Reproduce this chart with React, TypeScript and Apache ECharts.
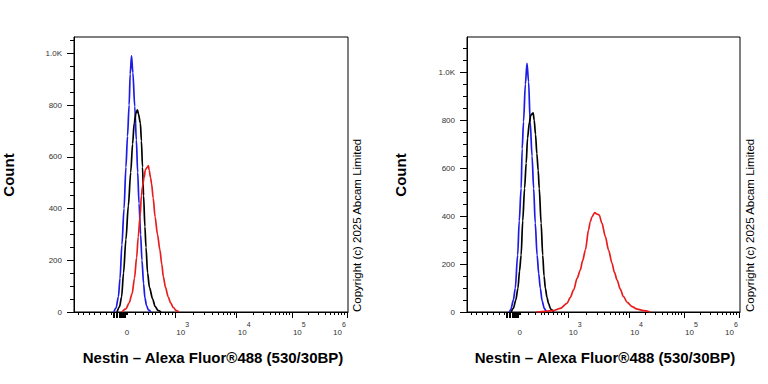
import React, { useEffect, useRef } from 'react';
import * as echarts from 'echarts';

// ---------- Data (x = display channel on a 0..1024 biexponential scale, y = count) ----------
const leftBlue: [number, number][] = [
  [149, 0], [157, 15], [166, 59], [172, 130], [179, 260], [187, 400], [194, 560], [200, 680],
  [206, 800], [210, 920], [215, 990], [220, 925], [227, 795], [233, 665], [238, 540], [243, 420],
  [249, 300], [254, 200], [260, 110], [265, 55], [271, 25], [278, 8], [288, 0],
];
const leftBlack: [number, number][] = [
  [161, 0], [170, 20], [178, 59], [185, 150], [194, 280], [203, 410], [212, 540], [219, 650],
  [225, 730], [232, 770], [237, 781], [241, 765], [248, 730], [252, 661], [256, 560], [260, 450],
  [265, 330], [269, 250], [275, 151], [282, 95], [294, 50], [303, 22], [314, 6], [325, 0],
];
const leftRed: [number, number][] = [
  [179, 0], [194, 12], [206, 35], [217, 70], [226, 130], [234, 210], [240, 290], [247, 370],
  [252, 450], [256, 485], [262, 520], [267, 550], [273, 558], [278, 566], [281, 548], [286, 520],
  [290, 495], [296, 440], [303, 368], [312, 300], [321, 240], [328, 185], [334, 136], [342, 95],
  [352, 59], [361, 35], [371, 18], [381, 6], [392, 0],
];
const rightBlue: [number, number][] = [
  [159, 0], [164, 10], [174, 50], [181, 99], [190, 237], [196, 380], [203, 515], [207, 680],
  [212, 793], [219, 950], [225, 1036], [231, 960], [237, 793], [244, 650], [250, 515], [256, 370],
  [263, 237], [269, 160], [275, 99], [282, 45], [290, 15], [297, 0],
];
const rightBlack: [number, number][] = [
  [166, 0], [174, 15], [183, 50], [191, 99], [197, 170], [203, 237], [209, 380], [216, 515],
  [222, 620], [227, 724], [234, 790], [239, 820], [248, 830], [252, 800], [257, 740], [262, 660],
  [267, 590], [271, 515], [278, 370], [284, 237], [289, 150], [294, 99], [300, 60], [306, 35],
  [314, 12], [325, 0],
];
const rightRed: [number, number][] = [
  [260, 0], [294, 3], [324, 6], [350, 15], [375, 36], [387, 60], [400, 92], [413, 140],
  [425, 175], [434, 215], [444, 258], [456, 342], [462, 375], [469, 397], [479, 414], [488, 408],
  [496, 404], [506, 370], [519, 314], [531, 258], [544, 203], [553, 165], [563, 133], [575, 95],
  [587, 64], [601, 40], [619, 22], [639, 12], [662, 6], [688, 0],
];

// Axis values
const yMaxLeft = 1063;
const yMaxRight = 1146;
const yLabelValues = [0, 200, 400, 600, 800, 1000];
const yMinorLeft = [50, 100, 150, 250, 300, 350, 450, 500, 550, 650, 700, 750, 850, 900, 950, 1050];
const yMinorRight = [50, 100, 150, 250, 300, 350, 450, 500, 550, 650, 700, 750, 850, 900, 950, 1050, 1100];

const xLabelValues = [0, 1e3, 1e4, 1e5, 1e6];
const xLabelExponents = [0, 3, 4, 5, 6];
const xMajorTickValues = [
  -90, -80, -70, -60, -50, -45, -40, -35, -30, -25, -20, -15, -10,
  1e3, 1e4, 1e5, 1e6,
];
const xMinorTickValues = [
  -700, -600, -500, -400, -300, -200, -100, -5, 0,
  100, 200, 300, 400, 500, 600, 700, 800, 900,
  2000, 3000, 4000, 5000, 6000, 7000, 8000, 9000,
  20000, 30000, 40000, 50000, 60000, 70000, 80000, 90000,
  200000, 300000, 400000, 500000, 600000, 700000, 800000, 900000,
];

// Biexponential display scale definition (intensity -> channel)
const scaleIntensity = [-770, -100, 0, 100, 500, 1000, 1e4, 1e5, 1e6];
const scaleChannel = [0, 140, 198, 228, 303, 378, 608, 814, 1020];

const xTitle = 'Nestin – Alexa Fluor®488 (530/30BP)';
const yTitle = 'Count';
const copyright = 'Copyright (c) 2025 Abcam Limited';

const FONT = '"Liberation Sans", Arial, Helvetica, sans-serif';

function hSpace(v: number): number {
  return v < 0 ? v / 100 : Math.asinh(v / 100);
}
function toChannel(v: number): number {
  const x = hSpace(v);
  const n = scaleIntensity.length;
  for (let i = 0; i < n - 1; i++) {
    const a = hSpace(scaleIntensity[i]);
    const b = hSpace(scaleIntensity[i + 1]);
    if (x <= b || i === n - 2) {
      return scaleChannel[i] + ((x - a) / (b - a)) * (scaleChannel[i + 1] - scaleChannel[i]);
    }
  }
  return 0;
}

const xLabelCh = xLabelValues.map(toChannel);
const xMajorCh = xMajorTickValues.map(toChannel);
const xMinorCh = xMinorTickValues.map(toChannel);

function xLabelFormatter(val: number): string {
  let idx = 0;
  let best = Infinity;
  xLabelCh.forEach((c, i) => {
    const d = Math.abs(c - val);
    if (d < best) {
      best = d;
      idx = i;
    }
  });
  if (idx === 0) return '{b|0}';
  const e = xLabelExponents[idx];
  if (idx === xLabelCh.length - 1) return `{b|10}{s|${e}}{g| }`;
  return `{g| }{b|10}{s|${e}}`;
}

const labelColor = '#333';

function makeAxes(gridIndex: number, yMax: number, yMinor: number[]) {
  const xAxes = [
    {
      type: 'value',
      gridIndex,
      position: 'bottom',
      min: 0,
      max: 1024,
      axisLine: { show: true, lineStyle: { color: '#000', width: 1 } },
      axisTick: { show: true, length: 3, customValues: xMinorCh, lineStyle: { color: '#000', width: 1 } },
      axisLabel: {
        show: true,
        customValues: xLabelCh,
        formatter: xLabelFormatter,
        margin: 8,
        color: labelColor,
        fontFamily: FONT,
        rich: {
          b: { fontSize: 8, fontFamily: FONT, color: labelColor, padding: [8, 0, 0, 0] },
          s: { fontSize: 7, fontFamily: FONT, color: labelColor, padding: [0, 0, 8, 0] },
          g: { width: 15, fontSize: 8 },
        },
      },
      splitLine: { show: false },
    },
    {
      type: 'value',
      gridIndex,
      position: 'bottom',
      min: 0,
      max: 1024,
      axisLine: { show: false },
      axisTick: { show: true, length: 6, customValues: xMajorCh, lineStyle: { color: '#000', width: 1 } },
      axisLabel: { show: false },
      splitLine: { show: false },
    },
  ];
  const yAxes = [
    {
      type: 'value',
      gridIndex,
      position: 'left',
      min: 0,
      max: yMax,
      axisLine: { show: true, lineStyle: { color: '#000', width: 1 } },
      axisTick: { show: true, length: 4, customValues: yMinor, lineStyle: { color: '#000', width: 1 } },
      axisLabel: {
        show: true,
        customValues: yLabelValues,
        formatter: (v: number) => (v === 1000 ? '1.0K' : String(v)),
        fontSize: 8,
        margin: 12,
        color: labelColor,
        fontFamily: FONT,
      },
      splitLine: { show: false },
    },
    {
      type: 'value',
      gridIndex,
      position: 'left',
      min: 0,
      max: yMax,
      axisLine: { show: false },
      axisTick: { show: true, length: 7, customValues: yLabelValues, lineStyle: { color: '#000', width: 1 } },
      axisLabel: { show: false },
      splitLine: { show: false },
    },
  ];
  return { xAxes, yAxes };
}

function lineSeries(data: [number, number][], color: string, axisIdx: number) {
  return {
    type: 'line',
    data,
    xAxisIndex: axisIdx,
    yAxisIndex: axisIdx,
    smooth: 0.3,
    smoothMonotone: 'x',
    showSymbol: false,
    symbol: 'none',
    lineStyle: { color, width: 1.7 },
    silent: true,
  };
}

const BLUE = '#1c1ce6';
const BLACK = '#000000';
const RED = '#e81e1e';

export default function App() {
  const ref = useRef<HTMLDivElement>(null);
  useEffect(() => {
    if (!ref.current) return;
    const chart = echarts.init(ref.current, null, { renderer: 'svg' });
    const L = makeAxes(0, yMaxLeft, yMinorLeft);
    const R = makeAxes(1, yMaxRight, yMinorRight);
    const option = {
      animation: false,
      backgroundColor: '#ffffff',
      grid: [
        { left: 74, top: 37, width: 274, height: 275, show: true, borderColor: '#000', borderWidth: 1, backgroundColor: 'transparent' },
        { left: 467, top: 37, width: 273, height: 275, show: true, borderColor: '#000', borderWidth: 1, backgroundColor: 'transparent' },
      ],
      xAxis: [...L.xAxes, ...R.xAxes],
      yAxis: [...L.yAxes, ...R.yAxes],
      series: [
        lineSeries(leftBlue, BLUE, 0),
        lineSeries(leftBlack, BLACK, 0),
        lineSeries(leftRed, RED, 0),
        lineSeries(rightBlue, BLUE, 2),
        lineSeries(rightBlack, BLACK, 2),
        lineSeries(rightRed, RED, 2),
      ],
      graphic: [
        { type: 'text', x: 8, y: 175, rotation: Math.PI / 2, style: { text: yTitle, font: `bold 15px ${FONT}`, fill: '#000', align: 'center', verticalAlign: 'middle' } },
        { type: 'text', x: 400, y: 175, rotation: Math.PI / 2, style: { text: yTitle, font: `bold 15px ${FONT}`, fill: '#000', align: 'center', verticalAlign: 'middle' } },
        { type: 'text', x: 213, y: 357, style: { text: xTitle, font: `bold 15px ${FONT}`, fill: '#000', align: 'center', verticalAlign: 'middle' } },
        { type: 'text', x: 605, y: 357, style: { text: xTitle, font: `bold 15px ${FONT}`, fill: '#000', align: 'center', verticalAlign: 'middle' } },
        { type: 'text', x: 357, y: 312, rotation: Math.PI / 2, style: { text: copyright, font: `11.5px ${FONT}`, fill: '#000', align: 'left', verticalAlign: 'middle' } },
        { type: 'text', x: 750, y: 312, rotation: Math.PI / 2, style: { text: copyright, font: `11.5px ${FONT}`, fill: '#000', align: 'left', verticalAlign: 'middle' } },
      ],
    };
    chart.setOption(option as any);
    return () => chart.dispose();
  }, []);
  return (
    <div
      ref={ref}
      style={{ position: 'fixed', left: 0, top: 0, width: 768, height: 384, background: '#fff' }}
    />
  );
}
